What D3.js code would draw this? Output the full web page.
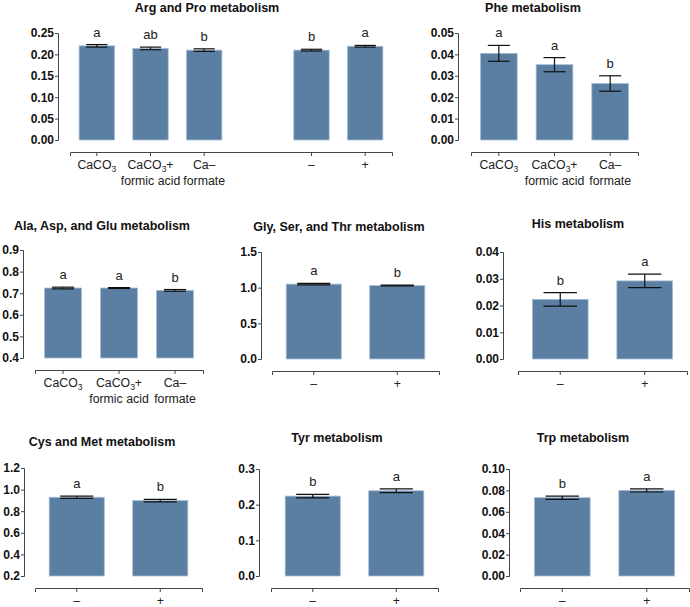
<!DOCTYPE html>
<html>
<head>
<meta charset="utf-8">
<script src="https://cdn.jsdelivr.net/npm/d3@7"></script>
<style>
  body { margin: 0; background: #fff; }
  text { font-family: "Liberation Sans", Arial, sans-serif; }
</style>
</head>
<body>
<div id="chart-area"></div>
<script>
// groups
var calciumGroups = ["CaCO3", "CaCO3+formic", "Ca-formate"];
var supplGroups = ["minus", "plus"];
var argGroups = calciumGroups.concat(["gap"], supplGroups);

// means, SE and letters
var argMean = [0.220, 0.214, 0.210, 0.210, 0.219];
var argSe = [0.003, 0.003, 0.003, 0.002, 0.002];
var argLetters = ["a", "ab", "b", "b", "a"];
var argTicks = [0, 0.05, 0.10, 0.15, 0.20, 0.25];

var pheMean = [0.0405, 0.0352, 0.0264];
var pheSe = [0.0037, 0.0033, 0.0036];
var pheLetters = ["a", "a", "b"];
var pheTicks = [0, 0.01, 0.02, 0.03, 0.04, 0.05];

var alaMean = [0.724, 0.724, 0.713];
var alaSe = [0.004, 0.002, 0.004];
var alaLetters = ["a", "a", "b"];
var alaTicks = [0.4, 0.5, 0.6, 0.7, 0.8, 0.9];

var glyMean = [1.05, 1.03];
var glySe = [0.01, 0.006];
var glyLetters = ["a", "b"];
var glyTicks = [0, 0.5, 1.0, 1.5];

var hisMean = [0.0223, 0.0292];
var hisSe = [0.0025, 0.0025];
var hisLetters = ["b", "a"];
var hisTicks = [0, 0.01, 0.02, 0.03, 0.04];

var cysMean = [0.929, 0.898];
var cysSe = [0.010, 0.012];
var cysLetters = ["a", "b"];
var cysTicks = [0.2, 0.4, 0.6, 0.8, 1.0, 1.2];

var tyrMean = [0.224, 0.239];
var tyrSe = [0.005, 0.005];
var tyrLetters = ["b", "a"];
var tyrTicks = [0, 0.1, 0.2, 0.3];

var trpMean = [0.0732, 0.0800];
var trpSe = [0.0015, 0.0015];
var trpLetters = ["b", "a"];
var trpTicks = [0, 0.02, 0.04, 0.06, 0.08, 0.10];

var labelLines = {
    "CaCO3": ["CaCO_3"],
    "CaCO3+formic": ["CaCO_3+", "formic acid"],
    "Ca-formate": ["Ca\u2013", "formate"],
    "minus": ["\u2013"],
    "plus": ["+"]
};

var barColor = "#5b7fa3";

var svg = d3.select("#chart-area")
    .append("svg")
        .attr("width", 690)
        .attr("height", 607);

// panel layout
var panels = [
    { title: "Arg and Pro metabolism", groups: argGroups, mean: argMean, se: argSe, letters: argLetters,
      ticks: argTicks, fmt: ".2f", ax: 58, yTop: 33, yBot: 140, xl: 70, xr: 392, tx: 207, ty: 12 },
    { title: "Phe metabolism", groups: calciumGroups, mean: pheMean, se: pheSe, letters: pheLetters,
      ticks: pheTicks, fmt: ".2f", ax: 458, yTop: 33, yBot: 140, xl: 471, xr: 638, tx: 533, ty: 12 },
    { title: "Ala, Asp, and Glu metabolism", groups: calciumGroups, mean: alaMean, se: alaSe, letters: alaLetters,
      ticks: alaTicks, fmt: ".1f", ax: 23, yTop: 250, yBot: 358, xl: 35, xr: 203, tx: 102, ty: 230 },
    { title: "Gly, Ser, and Thr metabolism", groups: supplGroups, mean: glyMean, se: glySe, letters: glyLetters,
      ticks: glyTicks, fmt: ".1f", ax: 261, yTop: 252, yBot: 359, xl: 272, xr: 439, tx: 339, ty: 231 },
    { title: "His metabolism", groups: supplGroups, mean: hisMean, se: hisSe, letters: hisLetters,
      ticks: hisTicks, fmt: ".2f", ax: 503, yTop: 252, yBot: 359, xl: 518, xr: 687, tx: 578, ty: 228 },
    { title: "Cys and Met metabolism", groups: supplGroups, mean: cysMean, se: cysSe, letters: cysLetters,
      ticks: cysTicks, fmt: ".1f", ax: 24, yTop: 468, yBot: 576, xl: 35, xr: 202, tx: 102, ty: 446 },
    { title: "Tyr metabolism", groups: supplGroups, mean: tyrMean, se: tyrSe, letters: tyrLetters,
      ticks: tyrTicks, fmt: ".1f", ax: 259, yTop: 469, yBot: 576, xl: 271, xr: 438, tx: 337, ty: 442 },
    { title: "Trp metabolism", groups: supplGroups, mean: trpMean, se: trpSe, letters: trpLetters,
      ticks: trpTicks, fmt: ".2f", ax: 509, yTop: 469, yBot: 576, xl: 520, xr: 689, tx: 583, ty: 442 }
];

panels.forEach(drawPanel);

function drawPanel(p) {
    var g = svg.append("g");

    var y = d3.scaleLinear()
        .domain([p.ticks[0], p.ticks[p.ticks.length - 1]])
        .range([p.yBot, p.yTop]);
    var x = d3.scaleBand()
        .domain(p.groups)
        .range([p.xl, p.xr])
        .paddingInner(0.34)
        .paddingOuter(0.17);

    // title
    g.append("text")
        .attr("x", p.tx)
        .attr("y", p.ty)
        .attr("text-anchor", "middle")
        .attr("font-size", "12.5px")
        .attr("font-weight", "bold")
        .attr("fill", "#111")
        .text(p.title);

    // Y Axis
    var yAxisCall = d3.axisLeft(y)
        .tickValues(p.ticks)
        .tickFormat(d3.format(p.fmt))
        .tickSizeOuter(0)
        .tickSize(3)
        .tickPadding(1);
    var yAxis = g.append("g")
        .attr("transform", "translate(" + p.ax + ",0)")
        .call(yAxisCall);
    yAxis.select(".domain").attr("stroke", "#444");
    yAxis.selectAll(".tick line").attr("stroke", "#444");
    yAxis.selectAll(".tick text")
        .attr("font-size", "12px")
        .attr("font-weight", "bold")
        .attr("font-family", "Liberation Sans, Arial, sans-serif")
        .attr("fill", "#111");

    // X Axis, below the bars
    var xLineY = p.yBot + 12;
    var barGroups = p.groups.filter(function(d) { return d != "gap"; });
    var xAxisCall = d3.axisBottom(x)
        .tickValues(barGroups)
        .tickFormat("")
        .tickSizeOuter(0)
        .tickSize(4);
    var xAxis = g.append("g")
        .attr("transform", "translate(0," + xLineY + ")")
        .call(xAxisCall);
    xAxis.select(".domain").attr("stroke", "#444");
    xAxis.selectAll(".tick line").attr("stroke", "#444");

    // category labels
    barGroups.forEach(function(grp) {
        var cx = x(grp) + x.bandwidth() / 2;
        labelLines[grp].forEach(function(line, li) {
            var t = g.append("text")
                .attr("x", cx)
                .attr("y", xLineY + 17 + li * 16)
                .attr("text-anchor", "middle")
                .attr("font-size", "12.3px")
                .attr("fill", "#222");
            var parts = line.split("_3");
            if (parts.length == 2) {
                t.append("tspan").text(parts[0]);
                t.append("tspan").attr("font-size", "8.5px").attr("dy", 3).text("3");
                if (parts[1]) t.append("tspan").attr("dy", -3).text(parts[1]);
            } else {
                t.text(line);
            }
        });
    });

    var data = barGroups.map(function(grp, i) {
        return { grp: grp, mean: p.mean[i], se: p.se[i], letter: p.letters[i] };
    });

    // bars
    g.selectAll("rect.bar").data(data).enter()
        .append("rect")
        .attr("class", "bar")
        .attr("x", function(d) { return x(d.grp); })
        .attr("width", x.bandwidth())
        .attr("y", function(d) { return y(d.mean); })
        .attr("height", function(d) { return p.yBot - y(d.mean); })
        .attr("fill", barColor)
        .attr("stroke", "#a7bfd5")
        .attr("stroke-width", 0.8);

    // error bars
    var capW = x.bandwidth() * 0.6;
    var err = g.selectAll("g.err").data(data).enter()
        .append("g")
        .attr("class", "err")
        .attr("stroke", "#111")
        .attr("stroke-width", 1.2);
    err.append("line")
        .attr("x1", function(d) { return x(d.grp) + x.bandwidth() / 2; })
        .attr("x2", function(d) { return x(d.grp) + x.bandwidth() / 2; })
        .attr("y1", function(d) { return y(d.mean + d.se); })
        .attr("y2", function(d) { return y(d.mean - d.se); });
    [1, -1].forEach(function(s) {
        err.append("line")
            .attr("x1", function(d) { return x(d.grp) + (x.bandwidth() - capW) / 2; })
            .attr("x2", function(d) { return x(d.grp) + (x.bandwidth() + capW) / 2; })
            .attr("y1", function(d) { return y(d.mean + s * d.se); })
            .attr("y2", function(d) { return y(d.mean + s * d.se); });
    });

    // significance letters
    g.selectAll("text.letter").data(data).enter()
        .append("text")
        .attr("class", "letter")
        .attr("x", function(d) { return x(d.grp) + x.bandwidth() / 2; })
        .attr("y", function(d) { return y(d.mean + d.se) - 8; })
        .attr("text-anchor", "middle")
        .attr("font-size", "13px")
        .attr("fill", "#222")
        .text(function(d) { return d.letter; });
}
</script>
</body>
</html>
